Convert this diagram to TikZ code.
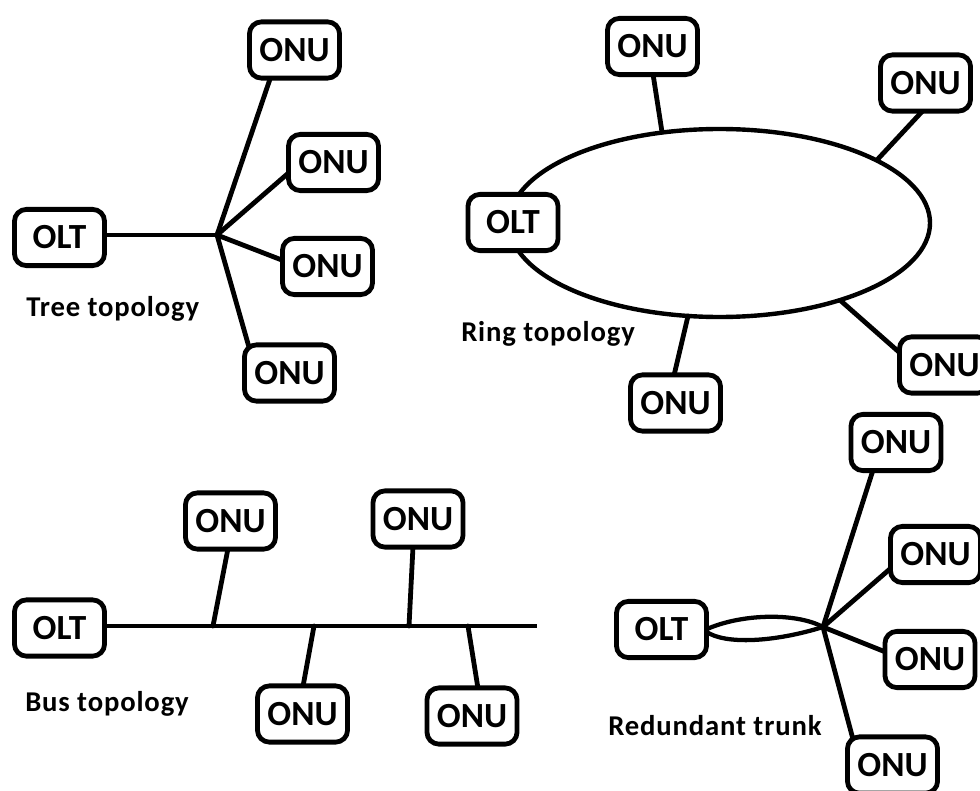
\documentclass[tikz,border=0pt]{standalone}
\usepackage{fontspec}
\newfontfamily\carlito{Carlito}
\newfontfamily\carlitosp{Carlito}[LetterSpace=3]
\usetikzlibrary{backgrounds,calc}
\newcommand\onufont{\carlito\bfseries\fontsize{26.5}{30}\selectfont}
\newcommand\lblfont{\carlitosp\bfseries\fontsize{21.5}{25}\selectfont}
\begin{document}
\begin{tikzpicture}[x=0.75pt,y=-0.75pt,
  box/.style={draw, line width=3.6pt, rounded corners=9pt, fill=white,
    minimum width=67.6pt, minimum height=42.2pt, inner sep=0pt, font=\onufont},
  lbl/.style={anchor=base west, inner sep=0pt, font=\lblfont},
  wire/.style={line width=3.6pt, line cap=round, line join=round},
  trunk/.style={line width=3.2pt, line cap=round}]
\useasboundingbox (0,0) rectangle (980,791);

% ---------- Tree topology ----------
\node[box] (tOLT) at (59.5,237.5) {OLT};
\coordinate (thub) at (217,235);
\node[box] (tONU1) at (294.5,50) {ONU};
\node[box] (tONU2) at (333.5,162.5) {ONU};
\node[box] (tONU3) at (327.5,266.5) {ONU};
\node[box] (tONU4) at (289.5,373) {ONU};
\node[lbl] (tlbl) at (26,316) {Tree topology};

% ---------- Ring topology ----------
\node[box] (rOLT) at (513,222.5) {OLT};
\node[box] (rONUa) at (652.5,46.5) {ONU};
\node[box] (rONUb) at (925.5,83) {ONU};
\node[box] (rONUc) at (675.5,403) {ONU};
\node[box] (rONUd) at (944.5,365) {ONU};
\coordinate (ringc) at (719.5,223);
\coordinate (ra) at (662,132);
\coordinate (rb) at (877,160);
\coordinate (rc) at (688,316);
\coordinate (rd) at (841,301);
\node[lbl] (rlbl) at (461,341) {Ring topology};

% ---------- Bus topology ----------
\node[box] (bOLT) at (59.5,628) {OLT};
\coordinate (bend) at (537,626);
\node[box] (bONU1) at (230.5,521) {ONU};
\node[box] (bONU2) at (418,519) {ONU};
\node[box] (bONU3) at (302.5,714) {ONU};
\node[box] (bONU4) at (472,716) {ONU};
\coordinate (b1) at (213,626);
\coordinate (b2) at (409,626);
\coordinate (b3) at (314,626);
\coordinate (b4) at (468,626);
\node[lbl] (blbl) at (25,711) {Bus topology};

% ---------- Redundant trunk ----------
\node[box] (dOLT) at (661.5,629.5) {OLT};
\coordinate (dhub) at (823,627);
\node[box] (dONU1) at (896,442.5) {ONU};
\node[box] (dONU2) at (935.5,554.5) {ONU};
\node[box] (dONU3) at (930,659.5) {ONU};
\node[box] (dONU4) at (892.5,765) {ONU};
\node[lbl] (dlbl) at (608,735) {Redundant trunk};

\begin{pgfonlayer}{background}
  \fill[white] (0,0) rectangle (980,791);
  % tree
  \draw[wire] (tOLT.center |- thub) -- (thub);
  \draw[wire] (thub) -- ($(tONU1.south)+(-24,-3)$);
  \draw[wire] (thub) -- ($(tONU2.west)+(3,10)$);
  \draw[wire] (thub) -- ($(tONU3.west)+(3,-6)$);
  \draw[wire] (thub) -- ($(tONU4.north)+(-41,3)$);
  % ring
  \draw[line width=3.3pt] (ringc) ellipse [x radius=210.5, y radius=94];
  \draw[wire] ($(rONUa.south)+(0.5,-3)$) -- (ra);
  \draw[wire] ($(rONUb.south)+(-2.5,-3)$) -- (rb);
  \draw[wire] (rc) -- ($(rONUc.north)+(-1.5,3)$);
  \draw[wire] (rd) -- ($(rONUd.west)+(3,-12)$);
  % bus
  \draw[line width=3.6pt] (bOLT.center |- bend) -- (bend);
  \draw[wire] (b1) -- ($(bONU1.south)+(-2.5,-3)$);
  \draw[wire] (b2) -- ($(bONU2.south)+(-5,-3)$);
  \draw[wire] (b3) -- ($(bONU3.north)+(0.5,3)$);
  \draw[wire] (b4) -- ($(bONU4.north)+(6,3)$);
  % redundant trunk
  \draw[trunk] ($(dOLT.east)+(-3,0)$) .. controls (740,614) and (795,612) .. (dhub);
  \draw[trunk] ($(dOLT.east)+(-3,2)$) .. controls (725,645) and (775,642) .. (dhub);
  \draw[wire] (dhub) -- ($(dONU1.south)+(-23,-3)$);
  \draw[wire] (dhub) -- ($(dONU2.west)+(3,13.5)$);
  \draw[wire] (dhub) -- ($(dONU3.west)+(3,-7.5)$);
  \draw[wire] (dhub) -- ($(dONU4.north)+(-40,3)$);
\end{pgfonlayer}
\end{tikzpicture}
\end{document}
